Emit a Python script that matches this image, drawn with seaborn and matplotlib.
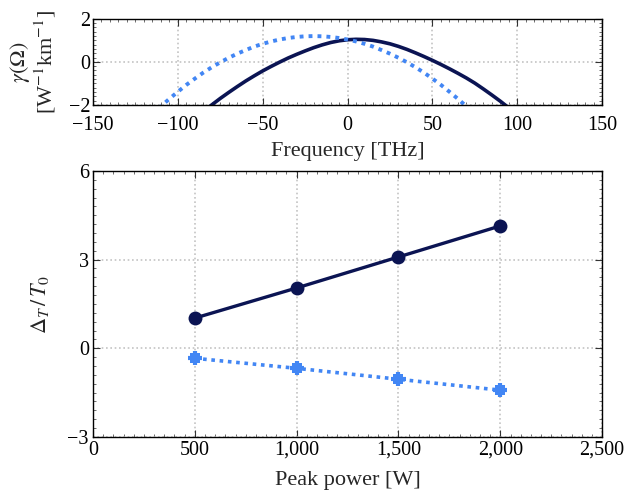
import matplotlib
matplotlib.use("Agg")
import matplotlib.pyplot as plt
import matplotlib.ticker as mticker
import seaborn as sns

# ---- data ----
freq_solid = [-85, -80, -75, -70, -65, -60, -55, -50, -45, -40, -35, -30, -25,
              -20, -15, -10, -5, 0, 5, 10, 15, 20, 25, 30, 35, 40, 45, 50, 55,
              60, 65, 70, 75, 80, 85, 90, 95]
gamma_solid = [-2.31, -2.00, -1.70, -1.42, -1.15, -0.89, -0.65, -0.42, -0.21,
               -0.01, 0.18, 0.35, 0.51, 0.66, 0.79, 0.90, 0.98, 1.03, 1.05,
               1.04, 1.00, 0.93, 0.84, 0.72, 0.58, 0.42, 0.25, 0.07, -0.12,
               -0.32, -0.53, -0.75, -0.99, -1.26, -1.54, -1.83, -2.14]

freq_dotted = [-115, -110, -105, -100, -95, -90, -85, -80, -75, -70, -65, -60,
               -55, -50, -45, -40, -35, -30, -25, -20, -15, -10, -5, 0, 5, 10,
               15, 20, 25, 30, 35, 40, 45, 50, 55, 60, 65, 70, 75]
gamma_dotted = [-2.45, -2.07, -1.72, -1.39, -1.07, -0.78, -0.50, -0.25, -0.02,
                0.19, 0.38, 0.55, 0.71, 0.84, 0.95, 1.04, 1.11, 1.16, 1.19,
                1.20, 1.19, 1.16, 1.11, 1.04, 0.95, 0.84, 0.71, 0.55, 0.38,
                0.19, -0.02, -0.25, -0.50, -0.78, -1.07, -1.39, -1.72, -2.07,
                -2.45]

power = [500, 1000, 1500, 2000]
delta_solid = [1.02, 2.04, 3.09, 4.14]
delta_dotted = [-0.34, -0.68, -1.05, -1.42]
delta_dotted_yerr = [0.24, 0.24, 0.24, 0.24]
delta_dotted_xerr = [35, 35, 35, 35]

DARK = "#0b1453"
LIGHT = "#4286f4"
GRID = "#c4c4c4"

sns.set_theme(style="white")
plt.rcParams["font.family"] = ["Liberation Serif", "DejaVu Serif"]
plt.rcParams["mathtext.fontset"] = "stix"


def style_axes(ax, xminor, yminor):
    ax.grid(True, which="major", color=GRID, linestyle=(0, (1, 1.6)), linewidth=1.2)
    ax.xaxis.set_minor_locator(mticker.MultipleLocator(xminor))
    ax.yaxis.set_minor_locator(mticker.MultipleLocator(yminor))
    ax.tick_params(which="both", direction="in", top=True, right=True,
                   bottom=True, left=True, colors="#333333", labelcolor="black")
    ax.tick_params(which="major", length=5, width=0.8, labelsize=14.5, pad=3)
    ax.tick_params(which="minor", length=2.5, width=0.5)
    for s in ax.spines.values():
        s.set_color("black")
        s.set_linewidth(1.0)


fig = plt.figure(figsize=(6.24, 4.97), dpi=100)
ax1 = fig.add_axes([0.149, 0.789, 0.816, 0.173])
ax2 = fig.add_axes([0.149, 0.121, 0.816, 0.535])

# ---- top: nonlinear coefficient vs frequency ----
sns.lineplot(x=freq_solid, y=gamma_solid, ax=ax1, color=DARK, linewidth=2.6)
sns.lineplot(x=freq_dotted, y=gamma_dotted, ax=ax1, color=LIGHT, linewidth=2.8,
             linestyle=(0, (1, 1.3)))
ax1.set_xlim(-150, 150)
ax1.set_ylim(-2, 2)
ax1.set_xticks([-150, -100, -50, 0, 50, 100, 150])
ax1.set_yticks([-2, 0, 2])
style_axes(ax1, 5, 0.2)
ax1.tick_params(axis="y", which="major", pad=2)
ax1.tick_params(axis="x", which="major", pad=8)
ax1.set_xlabel("Frequency [THz]", fontsize=16, labelpad=5)
ax1.set_ylabel(r"$\gamma(\Omega)$" + "\n" + r"[W$^{-1}$km$^{-1}$]", fontsize=16,
               labelpad=8, linespacing=1.0)

# ---- bottom: pulse delay vs peak power ----
sns.lineplot(x=power, y=delta_solid, ax=ax2, color=DARK, linewidth=2.4,
             marker="o", markersize=10, markeredgewidth=0)
sns.lineplot(x=power, y=delta_dotted, ax=ax2, color=LIGHT, linewidth=2.6,
             linestyle=(0, (1, 1.3)), marker="s", markersize=7, markeredgewidth=0)
ax2.errorbar(power, delta_dotted, yerr=delta_dotted_yerr, xerr=delta_dotted_xerr,
             fmt="none", ecolor=LIGHT, elinewidth=3, capsize=0, zorder=5)
ax2.set_xlim(0, 2500)
ax2.set_ylim(-3, 6)
ax2.set_xticks([0, 500, 1000, 1500, 2000, 2500])
ax2.set_yticks([-3, 0, 3, 6])
ax2.xaxis.set_major_formatter(mticker.StrMethodFormatter("{x:,.0f}"))
style_axes(ax2, 50, 0.3)
ax2.set_xlabel("Peak power [W]", fontsize=16, labelpad=8)
ax2.set_ylabel(r"$\Delta_T\,/\,T_0$", fontsize=16, labelpad=12)

fig.savefig("out.png", dpi=100)
